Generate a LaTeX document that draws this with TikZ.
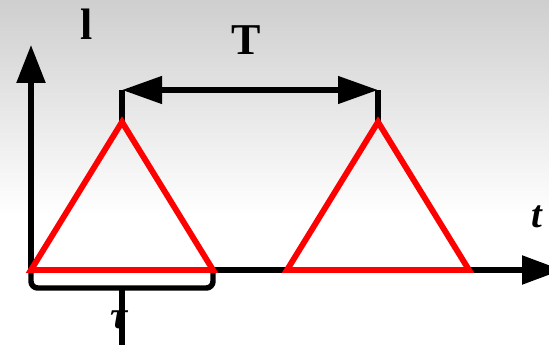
\documentclass[tikz,border=0pt]{standalone}
\usepackage{fontspec}
\setmainfont{Liberation Serif}
\usetikzlibrary{arrows.meta}
\begin{document}
\begin{tikzpicture}[x=0.75pt,y=-0.75pt,
  axis/.style={line width=4.1pt,black},
  tri/.style={line width=4.4pt,red,line join=miter},
  lbl/.style={inner sep=0pt,font=\fontsize{33}{36}\selectfont\bfseries},
  ilbl/.style={inner sep=0pt,font=\fontsize{29}{32}\selectfont\bfseries\itshape},
  bigtip/.style={-{Triangle[length=28.5pt,width=21pt]}}]
\useasboundingbox (0,0) rectangle (549,345);
\shade[top color=black!19,bottom color=white] (0,0) rectangle (549,215);
\fill[white] (0,214) rectangle (549,345);
% coordinates
\coordinate (O) at (31,270);
\coordinate (Ytop) at (31,45);
\coordinate (Xend) at (562,270);
\coordinate (A1) at (122,122);
\coordinate (L1) at (31,270);
\coordinate (R1) at (213,270);
\coordinate (A2) at (378,122);
\coordinate (L2) at (287,270);
\coordinate (R2) at (469,270);
\coordinate (T1) at (122,90);
\coordinate (T2) at (378,90);
\coordinate (B0) at (122,288);
\coordinate (Bend) at (122,345);
% axes
\draw[axis,bigtip] (O) -- (Ytop);
\draw[axis,-{Triangle[length=30pt,width=21pt]}] (O) -- (Xend);
% period marker
\draw[axis] (A1) -- (T1);
\draw[axis] (A2) -- (T2);
\draw[axis,{Triangle[length=30pt,width=20pt]}-{Triangle[length=30pt,width=20pt]}] (T1) -- (T2);
% bracket
\draw[axis,rounded corners=5pt] (31,270) -- (31,288) -- (213,288) -- (213,270);
\draw[axis] (B0) -- (Bend);
% triangles
\draw[tri] (L1) -- (A1) -- (R1) -- cycle;
\draw[tri] (L2) -- (A2) -- (R2) -- cycle;
% labels
\node[lbl] (l) at (87,24) {l};
\node[lbl] (T) at (246,40) {T};
\node[ilbl] (t) at (537,217) {t};
\node[ilbl] (tau) at (119,320) {τ};
\end{tikzpicture}
\end{document}
